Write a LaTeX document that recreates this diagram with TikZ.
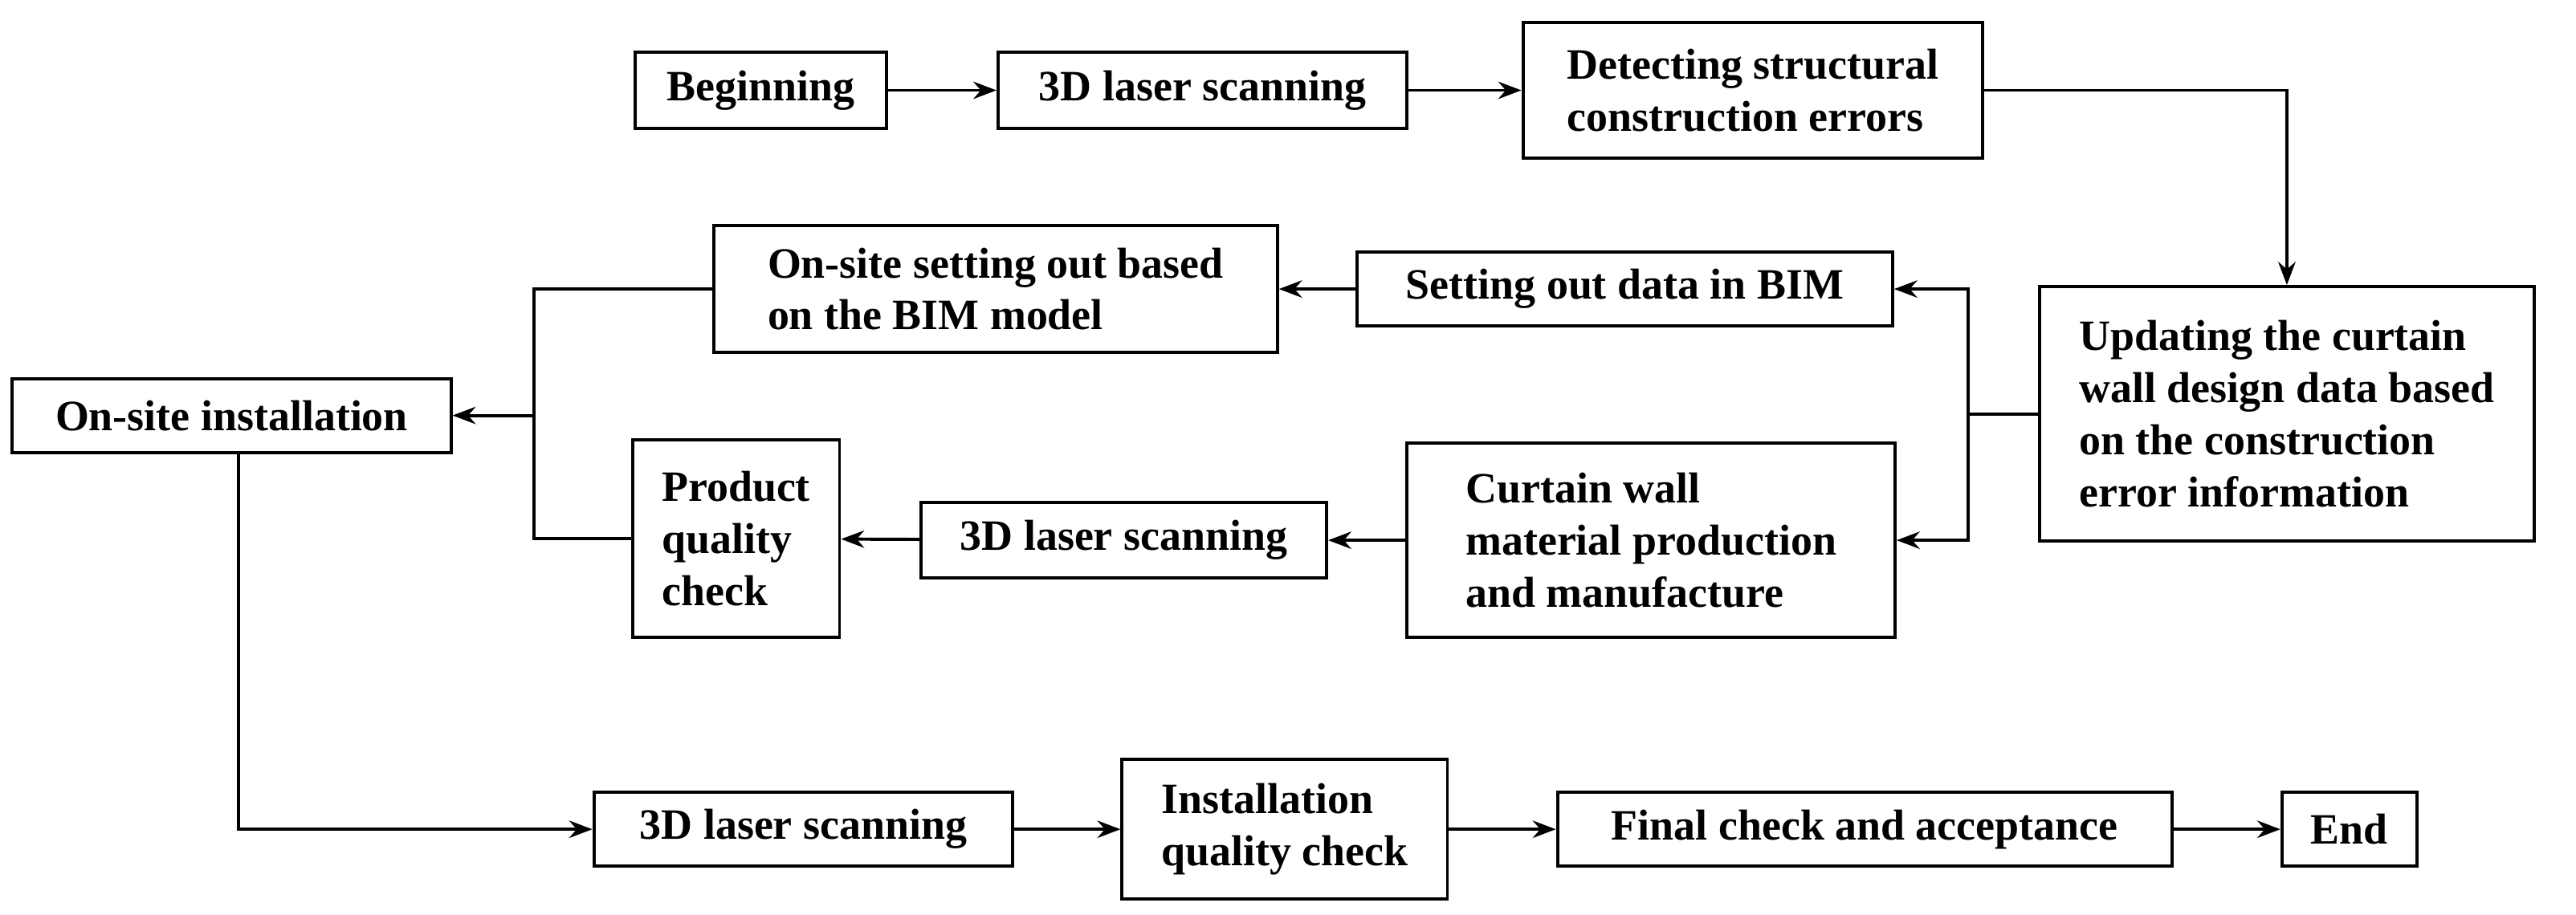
\documentclass[tikz,border=0pt]{standalone}
\usepackage{fontspec}
\setmainfont{Liberation Serif}
\usetikzlibrary{arrows.meta}
\tikzset{every path/.style={line width=1.1pt}}
\tikzset{box/.style={draw,rectangle,inner sep=4pt,font=\fontsize{15}{18}\selectfont\bfseries,align=left},
  flow/.style={-{Stealth[length=8pt,width=6pt]}}}
\begin{document}
\begin{tikzpicture}[x=0.02cm,y=-0.02cm]
  \useasboundingbox (0,0) rectangle (1568,557);
  \node[box,minimum width=153*0.02cm,minimum height=46*0.02cm] (begin) at (463,55) {Beginning};
  \node[box,minimum width=249*0.02cm,minimum height=46*0.02cm] (scanA) at (732,55) {3D laser scanning};
  \node[box,minimum width=280*0.02cm,minimum height=83*0.02cm] (detect) at (1067,55) {Detecting structural\\construction errors};
  \node[box,minimum width=301*0.02cm,minimum height=155*0.02cm] (update) at (1392,252) {Updating the curtain\\wall design data based\\on the construction\\error information};
  \node[box,minimum width=326*0.02cm,minimum height=45*0.02cm] (setdata) at (989,176) {Setting out data in BIM};
  \node[box,minimum width=343*0.02cm,minimum height=77*0.02cm] (setout) at (606,176) {On-site setting out based\\on the BIM model};
  \node[box,minimum width=267*0.02cm,minimum height=45*0.02cm] (install) at (141,253) {On-site installation};
  \node[box,minimum width=126*0.02cm,minimum height=120*0.02cm] (product) at (448,328) {Product\\quality\\check};
  \node[box,minimum width=247*0.02cm,minimum height=46*0.02cm] (scanB) at (684,329) {3D laser scanning};
  \node[box,minimum width=297*0.02cm,minimum height=118*0.02cm] (curtain) at (1005,329) {Curtain wall\\material production\\and manufacture};
  \node[box,minimum width=255*0.02cm,minimum height=45*0.02cm] (scanC) at (489,505) {3D laser scanning};
  \node[box,minimum width=198*0.02cm,minimum height=85*0.02cm] (iqc) at (782,505) {Installation\\quality check};
  \node[box,minimum width=374*0.02cm,minimum height=45*0.02cm] (final) at (1135,505) {Final check and acceptance};
  \node[box,minimum width=82*0.02cm,minimum height=45*0.02cm] (end) at (1430,505) {End};
  \coordinate (jR) at (1198,252);
  \coordinate (jL) at (325,253);
  \draw[flow] (begin) -- (scanA);
  \draw[flow] (scanA) -- (detect);
  \draw[flow] (detect.east) -| (update.north);
  \draw (update.west) -- (jR);
  \draw[flow] (jR) |- (setdata.east);
  \draw[flow] (jR) |- (curtain.east);
  \draw[flow] (setdata) -- (setout);
  \draw[flow] (curtain) -- (scanB);
  \draw[flow] (scanB) -- (product);
  \draw (product.west) -| (jL) |- (setout.west);
  \draw[flow] (jL) -- (install.east);
  \draw[flow] (install.south -| 145,0) |- (scanC.west);
  \draw[flow] (scanC) -- (iqc);
  \draw[flow] (iqc) -- (final);
  \draw[flow] (final) -- (end);
\end{tikzpicture}
\end{document}
